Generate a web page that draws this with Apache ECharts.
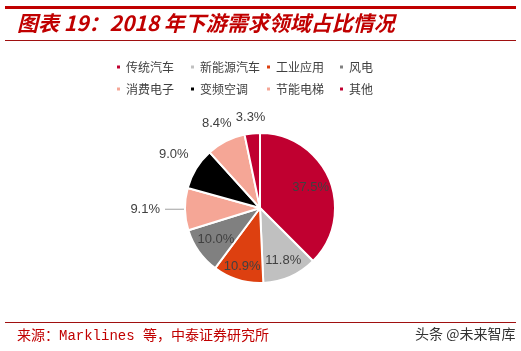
<!DOCTYPE html>
<html>
<head>
<meta charset="utf-8">
<script src="https://cdn.jsdelivr.net/npm/echarts@6/dist/echarts.min.js"></script>
<style>
  html, body { margin: 0; padding: 0; background: #fff; }
  #chart { width: 521px; height: 351px; }
</style>
</head>
<body>
<div id="chart"></div>
<script>
// 2018 年下游需求领域占比
var categories = ['传统汽车', '新能源汽车', '工业应用', '风电', '消费电子', '变频空调', '节能电梯', '其他'];
var shares = [37.5, 11.8, 10.9, 10.0, 9.1, 9.0, 8.4, 3.3];

// 样式
var colors = ['#C00030', '#C0C0C0', '#DD4010', '#808080', '#F5A696', '#000000', '#F5A696', '#C00030'];
var labelRadius = [0.73, 0.77, 0.81, 0.72, 0, 1.35, 1.27, 1.21]; // 相对半径, 0 = 外部引线
var pieR = 75;

var myChart = echarts.init(document.getElementById('chart'));

var total = shares.reduce(function (a, b) { return a + b; }, 0);
var midAngles = [];
var acc = 0;
for (var i = 0; i < shares.length; i++) {
    midAngles.push((acc + shares[i] / 2) / total * Math.PI * 2);
    acc += shares[i];
}

var pieData = categories.map(function (name, i) {
    var item = { name: name, value: shares[i], itemStyle: { color: colors[i] } };
    if (labelRadius[i] === 0) {
        item.label = { position: 'outside' };
        item.labelLine = { show: true, length: 4, length2: 16 };
    } else {
        item.label = { position: 'inside' };
        item.labelLine = { show: false };
    }
    return item;
});

function legendCol(names, left) {
    return {
        orient: 'vertical',
        left: left,
        top: 61,
        padding: 0,
        itemWidth: 5,
        itemHeight: 5,
        itemGap: 10,
        icon: 'rect',
        data: names,
        textStyle: { color: '#404040', fontSize: 12, fontFamily: 'Noto Sans CJK SC' }
    };
}

var option = {
    animation: false,
    backgroundColor: '#fff',
    legend: [
        legendCol([categories[0], categories[4]], 115),
        legendCol([categories[1], categories[5]], 189),
        legendCol([categories[2], categories[6]], 265),
        legendCol([categories[3], categories[7]], 338)
    ],
    graphic: [
        { type: 'rect', shape: { x: 5, y: 6, width: 511, height: 3 }, style: { fill: '#C00000' } },
        { type: 'rect', shape: { x: 5, y: 40, width: 511, height: 1 }, style: { fill: '#A01010' } },
        {
            type: 'text', left: 17, top: 13,
            style: {
                text: '图表 19：2018 年下游需求领域占比情况',
                fill: '#C00000',
                font: 'italic bold 21px "Noto Sans CJK SC"'
            }
        },
        { type: 'rect', shape: { x: 5, y: 322, width: 511, height: 1 }, style: { fill: '#A01010' } },
        {
            type: 'text', left: 17, top: 329,
            style: {
                text: '来源：Marklines 等，中泰证券研究所',
                fill: '#C00000',
                font: '14px "Liberation Mono", "Noto Sans CJK SC"'
            }
        },
        {
            type: 'text', left: 415, top: 327,
            style: {
                text: '头条 @未来智库',
                fill: '#333333',
                font: '14px "Noto Sans CJK SC"'
            }
        }
    ],
    series: [
        {
            name: '下游需求领域',
            type: 'pie',
            center: [260, 208],
            radius: pieR,
            startAngle: 90,
            clockwise: true,
            itemStyle: { borderColor: '#fff', borderWidth: 2 },
            label: {
                color: '#404040',
                fontSize: 13,
                fontFamily: 'Liberation Sans',
                formatter: function (p) { return p.value.toFixed(1) + '%'; }
            },
            labelLine: { lineStyle: { color: '#A0A0A0', width: 1 } },
            labelLayout: function (p) {
                var k = labelRadius[p.dataIndex];
                if (!k) { return {}; }
                var a = midAngles[p.dataIndex];
                var d = k * pieR - (pieR / 2 + 3);
                return { dx: d * Math.sin(a), dy: -d * Math.cos(a) };
            },
            data: pieData
        }
    ]
};

myChart.setOption(option);
</script>
</body>
</html>
